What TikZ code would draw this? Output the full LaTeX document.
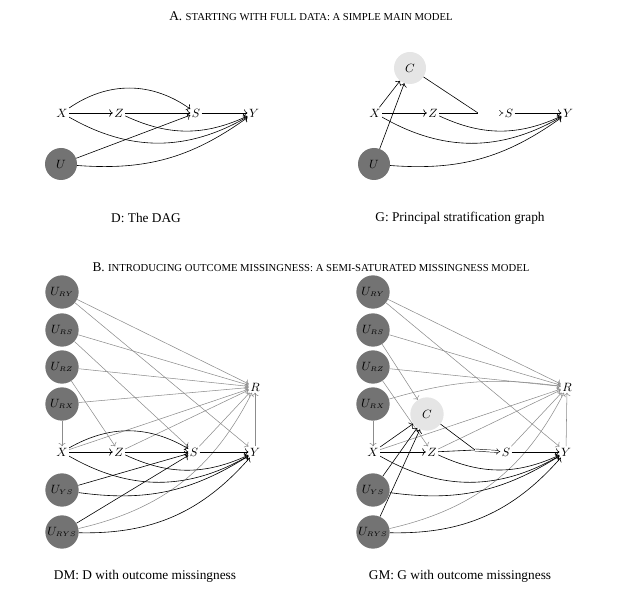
\documentclass[tikz,border=0pt]{standalone}
\usepackage{fontspec}
\setmainfont{Liberation Serif}
\usetikzlibrary{arrows.meta}
\begin{document}
\begin{tikzpicture}[x=0.75pt,y=-0.75pt,
  v/.style={inner sep=1pt,font=\small},
  lat/.style={circle,fill=black!55,minimum size=25pt,inner sep=0pt,font=\small},
  cn/.style={circle,fill=black!10,minimum size=25pt,inner sep=0pt,font=\small},
  e/.style={->,line width=0.45pt},
  g/.style={->,line width=0.4pt,black!45},
  dbl/.style={double,double distance=1.2pt,line width=0.35pt,-{Implies}},
  ttl/.style={font=\normalsize},
  capt/.style={font=\normalsize}]
\useasboundingbox (0,0) rectangle (623,591);
\node[ttl] (ta) at (311,16) {A. {\footnotesize STARTING WITH FULL DATA: A SIMPLE MAIN MODEL}};
\node[ttl] (tb) at (311,267) {B. {\footnotesize INTRODUCING OUTCOME MISSINGNESS: A SEMI-SATURATED MISSINGNESS MODEL}};
% D
\node[v] (x1) at (62,113) {$X$};
\node[v] (z1) at (119,113) {$Z$};
\node[v] (s1) at (196,113) {$S$};
\node[v] (y1) at (254,113) {$Y$};
\node[lat,minimum size=24pt] (u1) at (61,164) {$U$};
\draw[e] (x1)--(z1); \draw[e] (z1)--(s1); \draw[e] (s1)--(y1);
\draw[e] (x1) to[bend left=35] (s1);
\draw[e] (x1) to[bend right=30] (y1);
\draw[e] (z1) to[bend right=25] (y1);
\draw[e] (u1) to (s1);
\draw[e] (u1) to[bend right=20] (y1);
\node[capt] (cd) at (146,218) {D: The DAG};
% G
\node[cn,minimum size=24pt] (c2) at (410,68) {$C$};
\node[v] (x2) at (375,113) {$X$};
\node[v] (z2) at (433,113) {$Z$};
\node[v] (s2) at (509,113) {$S$};
\node[v] (y2) at (568,113) {$Y$};
\node[lat,minimum size=24pt] (u2) at (374,164) {$U$};
\coordinate (m2) at (478,113);
\draw[e] (x2)--(z2); \draw[e] (s2)--(y2);
\draw[e] (x2)--(c2); \draw[e] (u2)--(c2);
\draw[line width=0.45pt] (c2)--(m2); \draw[line width=0.45pt] (z2)--(m2);
\draw[dbl] (m2)--(s2);
\draw[e] (x2) to[bend right=30] (y2);
\draw[e] (z2) to[bend right=25] (y2);
\draw[e] (u2) to[bend right=20] (y2);
\node[capt] (cg) at (460,218) {G: Principal stratification graph};
% DM
\foreach \n/\t/\yy in {ry/RY/292,rs/RS/330,rz/RZ/367,rx/RX/404,ys/YS/490,rys/RYS/532}{
  \node[lat] (a\n) at (62,\yy) {$U_{\scriptscriptstyle \t}$};
  \node[lat] (b\n) at (373,\yy) {$U_{\scriptscriptstyle \t}$};}
\node[v] (x3) at (62,452) {$X$};
\node[v] (z3) at (119,452) {$Z$};
\node[v] (s3) at (194,452) {$S$};
\node[v] (y3) at (255,452) {$Y$};
\node[v] (r3) at (255,387) {$R$};
\foreach \a in {ary,ars,arz,arx,x3,z3,s3} \draw[g] (\a)--(r3);
\draw[g] (y3)--(r3);
\draw[g] (ary)--(y3); \draw[g] (ars)--(s3); \draw[g] (arz)--(z3); \draw[g] (arx)--(x3);
\draw[g] (arys) to[bend right=25] (r3);
\draw[e] (x3)--(z3); \draw[e] (z3)--(s3); \draw[e] (s3)--(y3);
\draw[e] (x3) to[bend left=30] (s3);
\draw[e] (x3) to[bend right=30] (y3);
\draw[e] (z3) to[bend right=25] (y3);
\draw[e] (ays)--(s3); \draw[e] (arys)--(s3);
\draw[e] (ays) to[bend right=20] (y3);
\draw[e] (arys) to[bend right=25] (y3);
\node[capt] (cdm) at (145,576) {DM: D with outcome missingness};
% GM
\node[cn] (c4) at (427,414) {$C$};
\node[v] (x4) at (373,452) {$X$};
\node[v] (z4) at (432,452) {$Z$};
\node[v] (s4) at (506,452) {$S$};
\node[v] (y4) at (566,452) {$Y$};
\node[v] (r4) at (567,387) {$R$};
\coordinate (m4) at (475,450);
\foreach \a in {bry,brs,brz,x4,z4,s4} \draw[g] (\a)--(r4);
\draw[g] (y4)--(r4);
\draw[g] (brx) to[bend left=12] (r4);
\draw[g] (bry)--(y4); \draw[g] (brs)--(c4); \draw[g] (brz)--(z4); \draw[g] (brx)--(x4);
\draw[g] (brys) to[bend right=25] (r4);
\draw[e] (x4)--(z4); \draw[e] (s4)--(y4);
\draw[e] (x4)--(c4); \draw[e] (bys)--(c4); \draw[e] (brys)--(c4);
\draw[line width=0.45pt] (c4)--(m4); \draw[line width=0.45pt] (z4)--(m4);
\draw[dbl] (m4)--(s4);
\draw[e] (x4) to[bend right=30] (y4);
\draw[e] (z4) to[bend right=25] (y4);
\draw[e] (bys) to[bend right=20] (y4);
\draw[e] (brys) to[bend right=25] (y4);
\node[capt] (cgm) at (460,576) {GM: G with outcome missingness};
\end{tikzpicture}
\end{document}
